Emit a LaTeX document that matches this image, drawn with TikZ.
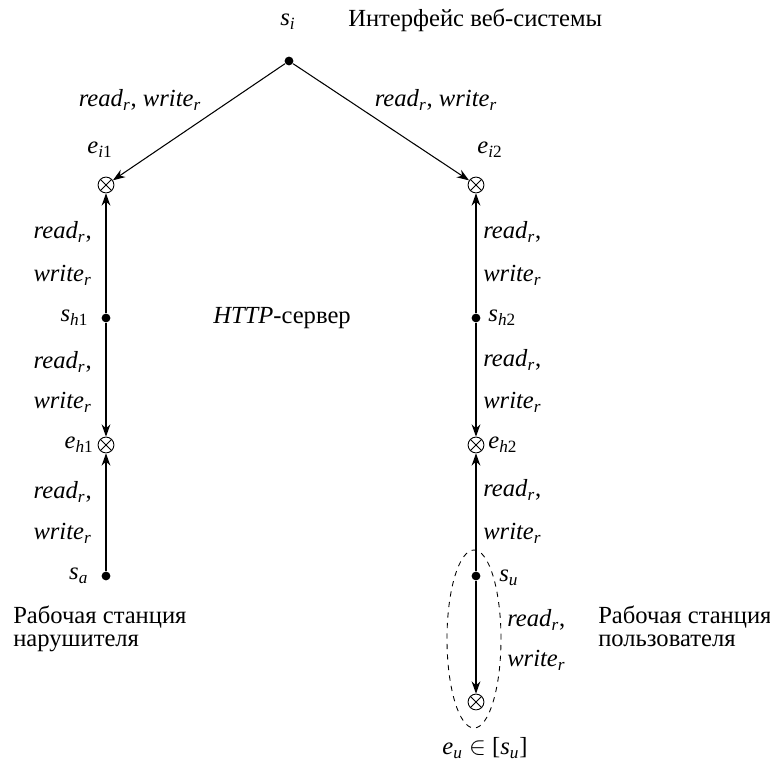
\documentclass[tikz,border=0pt]{standalone}
\usepackage{fontspec}
\setmainfont{Liberation Serif}
\usetikzlibrary{
  shapes,
  positioning,
  arrows.meta
}

\newcommand{\rdr}{\textit{read}\textsubscript{\textit{r}}}
\newcommand{\wrr}{\textit{write}\textsubscript{\textit{r}}}
\newcommand{\ix}[2]{\textit{#1}\textsubscript{#2}}

\begin{document}
\begin{tikzpicture}[>={Stealth[length=7pt,width=5pt]}, line width=0.6pt, font=\fontsize{14}{13}\selectfont,
    point/.style = {circle, fill, inner sep=0pt, minimum size=5pt},
    cross/.style = {circle, draw, line width=0.5pt, inner sep=0pt, minimum size=9pt,
      path picture = {\draw (path picture bounding box.north west) -- (path picture bounding box.south east)
                            (path picture bounding box.south west) -- (path picture bounding box.north east);}},
    lbl/.style = {inner sep=1pt}]
    \useasboundingbox (0,0) rectangle (15.4,-15.28);

    % vertices
    \node[point] (si)  at (5.78,-1.22) {};
    \node[cross] (ei1) at (2.12,-3.70) {};
    \node[cross] (ei2) at (9.52,-3.70) {};
    \node[point] (sh1) at (2.12,-6.36) {};
    \node[point] (sh2) at (9.52,-6.36) {};
    \node[cross] (eh1) at (2.12,-8.90) {};
    \node[cross] (eh2) at (9.52,-8.90) {};
    \node[point] (sa)  at (2.12,-11.52) {};
    \node[point] (su)  at (9.52,-11.52) {};
    \node[cross] (eu)  at (9.52,-14.04) {};

    % edges
    \draw[->] (si) -- (ei1);
    \draw[->] (si) -- (ei2);
    \draw[->] (sh1) -- (ei1);
    \draw[->] (sh1) -- (eh1);
    \draw[->] (sa) -- (eh1);
    \draw[->] (sh2) -- (ei2);
    \draw[->] (sh2) -- (eh2);
    \draw[->] (su) -- (eh2);
    \draw[->] (su) -- (eu);

    \draw[dashed, line width=0.5pt] (9.48,-12.78) ellipse (0.54 and 1.78);

    % names of vertices
    \node[lbl] (lsi) at (5.76,-0.44) {\ix{s}{\textit{i}}};
    \node[lbl, anchor=west] (tsi) at (6.92,-0.40) {Интерфейс веб-системы};
    \node[lbl] (lei1) at (2.0,-3.0) {\ix{e}{\textit{i}1}};
    \node[lbl] (lei2) at (9.8,-3.0) {\ix{e}{\textit{i}2}};
    \node[lbl, left = 6pt of sh1] (lsh1) {\ix{s}{\textit{h}1}};
    \node[lbl, right = 3pt of sh2] (lsh2) {\ix{s}{\textit{h}2}};
    \node[lbl, left = 1pt of eh1] (leh1) {\ix{e}{\textit{h}1}};
    \node[lbl, right = 1pt of eh2] (leh2) {\ix{e}{\textit{h}2}};
    \node[lbl, left = 6pt of sa] (lsa) {\ix{s}{\textit{a}}};
    \node[lbl, anchor=west] (lsu) at (9.94,-11.56) {\ix{s}{\textit{u}}};
    \node[lbl] (leu) at (9.7,-14.96) {\ix{e}{\textit{u}} $\in$ [\ix{s}{\textit{u}}]};

    % operations
    \node[lbl] (rw1) at (2.8,-2.0) {\rdr, \wrr};
    \node[lbl] (rw2) at (8.72,-2.0) {\rdr, \wrr};
    \node[lbl, anchor=east] (r1) at (1.88,-4.64) {\rdr,};
    \node[lbl, anchor=east] (w1) at (1.88,-5.50) {\wrr};
    \node[lbl, anchor=east] (r2) at (1.88,-7.24) {\rdr,};
    \node[lbl, anchor=east] (w2) at (1.88,-8.04) {\wrr};
    \node[lbl, anchor=east] (r3) at (1.88,-9.84) {\rdr,};
    \node[lbl, anchor=east] (w3) at (1.88,-10.66) {\wrr};
    \node[lbl, anchor=west] (r4) at (9.62,-4.64) {\rdr,};
    \node[lbl, anchor=west] (w4) at (9.62,-5.50) {\wrr};
    \node[lbl, anchor=west] (r5) at (9.62,-7.20) {\rdr,};
    \node[lbl, anchor=west] (w5) at (9.62,-8.04) {\wrr};
    \node[lbl, anchor=west] (r6) at (9.62,-9.80) {\rdr,};
    \node[lbl, anchor=west] (w6) at (9.62,-10.66) {\wrr};
    \node[lbl, anchor=west] (r7) at (10.10,-12.40) {\rdr,};
    \node[lbl, anchor=west] (w7) at (10.10,-13.20) {\wrr};

    % parts of the system
    \node[lbl] (http) at (5.64,-6.36) {\textit{HTTP}-сервер};
    \node[lbl, anchor=north west, align=left] (wsa) at (0.22,-12.08) {Рабочая станция\\нарушителя};
    \node[lbl, anchor=north west, align=left] (wsu) at (11.92,-12.08) {Рабочая станция\\пользователя};
\end{tikzpicture}
\end{document}
